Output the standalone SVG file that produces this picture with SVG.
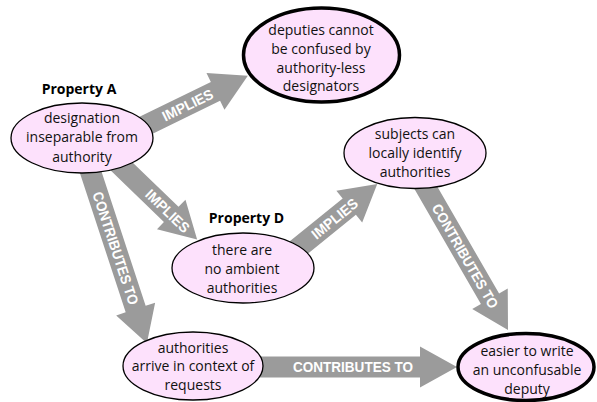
<svg xmlns="http://www.w3.org/2000/svg" width="597" height="402" viewBox="0 0 597 402">
<style>
.arrow{fill:#9b9b9b;}
.alabel{font-family:"Liberation Sans",Arial,sans-serif;font-weight:bold;font-size:14.5px;fill:#ffffff;text-anchor:middle;}
.node{fill:#fde1fc;stroke:#000;stroke-width:1.3;}
.goal{fill:#fde1fc;stroke:#000;stroke-width:3.5;}
.t{font-family:"Open Sans","Noto Sans",sans-serif;font-size:14px;fill:#111;text-anchor:middle;}
.prop{font-family:"Open Sans","Noto Sans",sans-serif;font-size:14px;font-weight:bold;fill:#000;text-anchor:middle;}
</style>
<rect width="597" height="402" fill="#ffffff"/>
<g id="connectors">
  <g transform="translate(122,137) rotate(-26)">
    <polygon class="arrow" points="0,-10.5 104,-10.5 104,-20.5 140,0 104,20.5 104,10.5 0,10.5"/>
    <text class="alabel" x="73" y="5.2" textLength="55" lengthAdjust="spacingAndGlyphs">IMPLIES</text>
  </g>
  <g transform="translate(118,163) rotate(44)">
    <polygon class="arrow" points="0,-10.5 74,-10.5 74,-20.5 110,0 74,20.5 74,10.5 0,10.5"/>
    <text class="alabel" x="69" y="5.2" textLength="55" lengthAdjust="spacingAndGlyphs">IMPLIES</text>
  </g>
  <g transform="translate(86,158) rotate(71.8)">
    <polygon class="arrow" points="0,-10.5 159,-10.5 159,-20.5 195,0 159,20.5 159,10.5 0,10.5"/>
    <text class="alabel" x="95" y="5.2" textLength="118" lengthAdjust="spacingAndGlyphs">CONTRIBUTES TO</text>
  </g>
  <g transform="translate(284,259.5) rotate(-39)">
    <polygon class="arrow" points="0,-10.5 84,-10.5 84,-20.5 120,0 84,20.5 84,10.5 0,10.5"/>
    <text class="alabel" x="65" y="5.2" textLength="55" lengthAdjust="spacingAndGlyphs">IMPLIES</text>
  </g>
  <g transform="translate(413,165.5) rotate(60)">
    <polygon class="arrow" points="0,-10.5 154,-10.5 154,-20.5 190,0 154,20.5 154,10.5 0,10.5"/>
    <text class="alabel" x="104.5" y="5.2" textLength="118" lengthAdjust="spacingAndGlyphs">CONTRIBUTES TO</text>
  </g>
  <g transform="translate(230,367)">
    <polygon class="arrow" points="0,-10.5 190,-10.5 190,-20.5 227,0 190,20.5 190,10.5 0,10.5"/>
    <text class="alabel" x="123" y="5.2" textLength="120" lengthAdjust="spacingAndGlyphs">CONTRIBUTES TO</text>
  </g>
</g>
<g id="nodeA">
  <text class="prop" x="79" y="94">Property A</text>
  <ellipse class="node" cx="82" cy="138" rx="71" ry="35"/>
  <text class="t" x="82" y="122.5">designation</text>
  <text class="t" x="82" y="142">inseparable from</text>
  <text class="t" x="82" y="161.5">authority</text>
</g>
<g id="nodeDeputies">
  <ellipse class="goal" cx="321.5" cy="55" rx="78" ry="47"/>
  <text class="t" x="321" y="34.5">deputies cannot</text>
  <text class="t" x="321" y="53.5">be confused by</text>
  <text class="t" x="321" y="72.5">authority-less</text>
  <text class="t" x="321" y="91">designators</text>
</g>
<g id="nodeSubjects">
  <ellipse class="node" cx="415" cy="153" rx="71" ry="35.5"/>
  <text class="t" x="415" y="138.5">subjects can</text>
  <text class="t" x="415" y="157.5">locally identify</text>
  <text class="t" x="415" y="176.5">authorities</text>
</g>
<g id="nodeD">
  <text class="prop" x="246.5" y="223">Property D</text>
  <ellipse class="node" cx="243" cy="268" rx="71" ry="35"/>
  <text class="t" x="242" y="254.5">there are</text>
  <text class="t" x="242" y="273.5">no ambient</text>
  <text class="t" x="242" y="292.5">authorities</text>
</g>
<g id="nodeArrive">
  <ellipse class="node" cx="193" cy="366" rx="70" ry="34"/>
  <text class="t" x="193" y="352.5">authorities</text>
  <text class="t" x="193" y="371">arrive in context of</text>
  <text class="t" x="193" y="389.5">requests</text>
</g>
<g id="nodeEasier">
  <ellipse class="goal" cx="526" cy="367" rx="68" ry="33.5"/>
  <text class="t" x="527" y="356">easier to write</text>
  <text class="t" x="527" y="375">an unconfusable</text>
  <text class="t" x="527" y="393.5">deputy</text>
</g>
</svg>
